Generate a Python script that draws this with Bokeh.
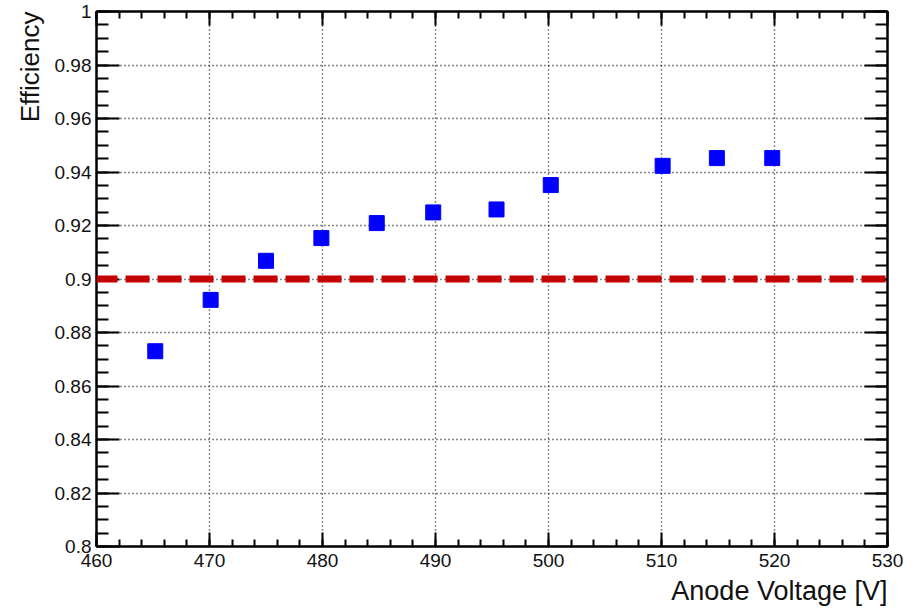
from bokeh.plotting import figure
from bokeh.models import (Span, Title, LinearAxis, FixedTicker, Range1d,
                          CustomJSTickFormatter)
from bokeh.embed import file_html
from bokeh.resources import INLINE

# ---- data ----
voltage = [465.2, 470.1, 475.0, 479.9, 484.8, 489.8, 495.4, 500.2, 510.1, 514.9, 519.8]
efficiency = [0.873, 0.8922, 0.9068, 0.9153, 0.9209, 0.9249, 0.926, 0.9351, 0.9423, 0.9452, 0.9452]
threshold = 0.9

x_ticks = [460, 470, 480, 490, 500, 510, 520, 530]
x_tick_labels = ["460", "470", "480", "490", "500", "510", "520", "530"]
y_ticks = [0.8, 0.82, 0.84, 0.86, 0.88, 0.9, 0.92, 0.94, 0.96, 0.98, 1.0]
y_tick_labels = ["0.8", "0.82", "0.84", "0.86", "0.88", "0.9", "0.92", "0.94", "0.96", "0.98", "1"]
x_minor = [460 + 2 * i for i in range(36)]
y_minor = [round(0.8 + 0.005 * i, 3) for i in range(41)]

FONT = "Liberation Sans"

p = figure(width=920, height=610, output_backend="svg", toolbar_location=None,
           x_range=Range1d(460, 530), y_range=Range1d(0.8, 1.0),
           min_border_left=96, min_border_right=33, min_border_top=11,
           min_border_bottom=64, background_fill_color="white",
           border_fill_color="white")

p.outline_line_color = "black"
p.outline_line_width = 2

xt = FixedTicker(ticks=x_ticks, minor_ticks=x_minor)
yt = FixedTicker(ticks=y_ticks, minor_ticks=y_minor)

for ax in p.xaxis:
    ax.ticker = xt
    ax.major_label_overrides = {t: l for t, l in zip(x_ticks, x_tick_labels)}
for ax in p.yaxis:
    ax.ticker = yt
    ax.major_label_overrides = {t: l for t, l in zip(y_ticks, y_tick_labels)}

def style_axis(ax, major, minor, labels=True):
    ax.axis_line_width = 2
    ax.axis_line_color = "black"
    ax.major_tick_in = major
    ax.major_tick_out = 0
    ax.minor_tick_in = minor
    ax.minor_tick_out = 0
    ax.major_tick_line_width = 2
    ax.minor_tick_line_width = 2
    ax.major_tick_line_color = "black"
    ax.minor_tick_line_color = "black"
    ax.major_label_text_font = FONT
    ax.major_label_text_font_size = "19px"
    ax.major_label_text_color = "#111111"
    if not labels:
        ax.formatter = CustomJSTickFormatter(code="return '';")
        ax.major_label_standoff = 0

style_axis(p.xaxis[0], 14, 7)
p.xaxis[0].major_label_standoff = 7
style_axis(p.yaxis[0], 23, 12)
p.yaxis[0].major_label_standoff = 5

top = LinearAxis(ticker=xt)
style_axis(top, 14, 7, labels=False)
p.add_layout(top, "above")
right = LinearAxis(ticker=yt)
style_axis(right, 23, 12, labels=False)
p.add_layout(right, "right")

# grid
for g in (p.xgrid[0], p.ygrid[0]):
    g.grid_line_color = "#111111"
    g.grid_line_width = 1.4
    g.grid_line_dash = "1 3"
p.xgrid[0].ticker = xt
p.ygrid[0].ticker = yt

# threshold line
p.add_layout(Span(location=threshold, dimension="width", line_color="#c40000",
                  line_width=7, line_dash="24 8", line_dash_offset=3))

# markers
p.scatter(voltage, efficiency, marker="square", size=15, fill_color="#0000ff",
          line_color="#0000ff", line_width=1)

# axis titles
xt_title = Title(text="Anode Voltage [V]", align="right", text_font=FONT,
                 text_font_size="27px", text_font_style="normal", text_color="#111111",
                 standoff=8)
p.add_layout(xt_title, "below")
yt_title = Title(text="Efficiency", align="right", text_font=FONT,
                 text_font_size="26px", text_font_style="normal", text_color="#111111",
                 standoff=13)
p.add_layout(yt_title, "left")

open("out.html", "w").write(file_html(p, INLINE))
